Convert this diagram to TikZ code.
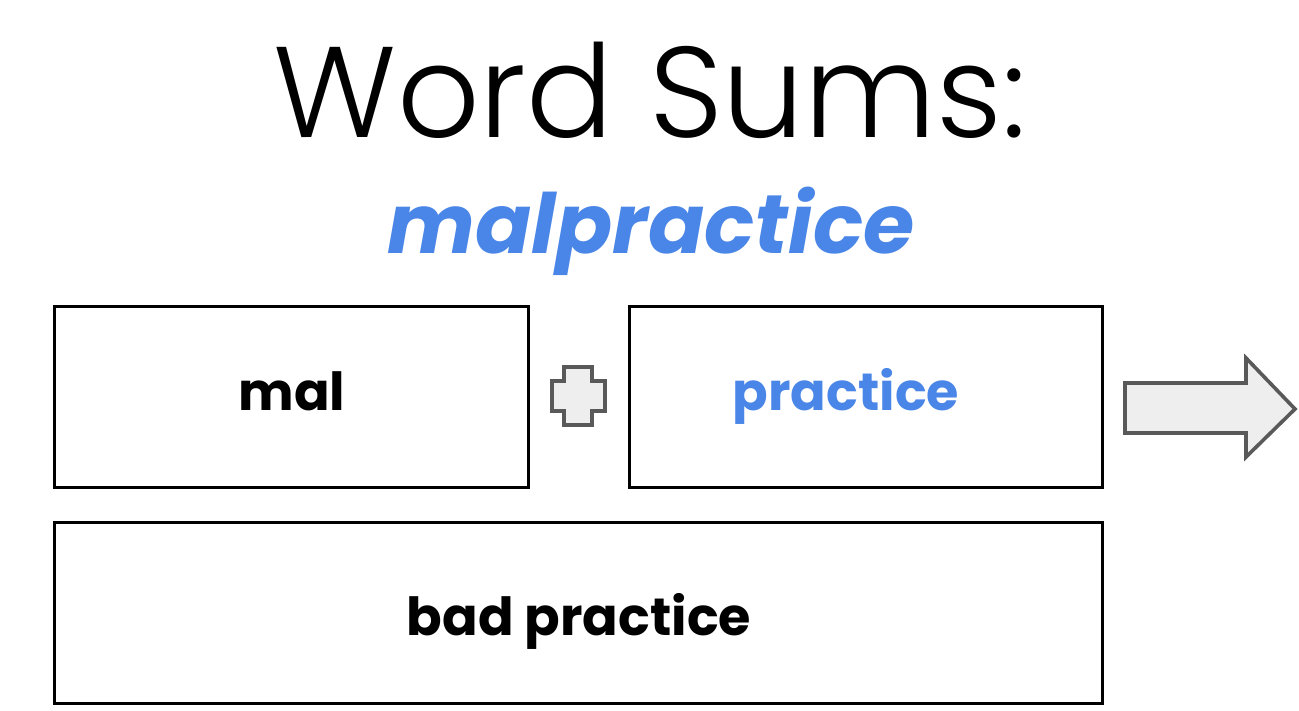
\documentclass[tikz,border=0pt]{standalone}
\usepackage{fontspec}
\setmainfont{Poppins}
\newfontfamily\lightfont{Poppins Light}
\definecolor{gblue}{HTML}{4A86E8}
\definecolor{shapefill}{HTML}{EEEEEE}
\definecolor{shapeline}{HTML}{595959}
\tikzset{
  wordbox/.style={draw=black, line width=3bp, rectangle, inner sep=0pt},
  boxtext/.style={font=\fontsize{52.5bp}{60bp}\selectfont\bfseries, anchor=base, inner sep=0pt},
  shapeicon/.style={draw=shapeline, fill=shapefill, line width=3.6bp, line join=miter},
}
\begin{document}
\begin{tikzpicture}[x=1bp, y=-1bp]
\useasboundingbox (0,0) rectangle (1299,710);
\fill[white] (0,0) rectangle (1299,710);
% title
\node[anchor=base, inner sep=0pt, font=\fontsize{129bp}{140bp}\lightfont] (title) at (650,137) {Word Sums:};
\node[anchor=base, inner sep=0pt, text=gblue, font=\fontsize{83bp}{92bp}\selectfont\bfseries\itshape] (sub) at (651,253) {malpractice};
% boxes
\node[wordbox, minimum width=473bp, minimum height=181bp] (malbox) at (291.5,396.5) {};
\node[wordbox, minimum width=473bp, minimum height=181bp] (pracbox) at (865.5,396.5) {};
\node[wordbox, minimum width=1047bp, minimum height=181bp] (badbox) at (578.5,612.5) {};
\node[boxtext] (maltext) at (292,410) {mal};
\node[boxtext, text=gblue] (practext) at (846,410) {practice};
\node[boxtext] (badtext) at (579,635) {bad practice};
% plus
\draw[shapeicon] (564,367) -- (592,367) -- (592,381) -- (605,381) -- (605,411) -- (592,411) -- (592,425) -- (564,425) -- (564,411) -- (552,411) -- (552,381) -- (564,381) -- cycle;
% arrow
\draw[shapeicon] (1125,383) -- (1246,383) -- (1246,358) -- (1295,409) -- (1246,457) -- (1246,433) -- (1125,433) -- cycle;
\end{tikzpicture}
\end{document}
